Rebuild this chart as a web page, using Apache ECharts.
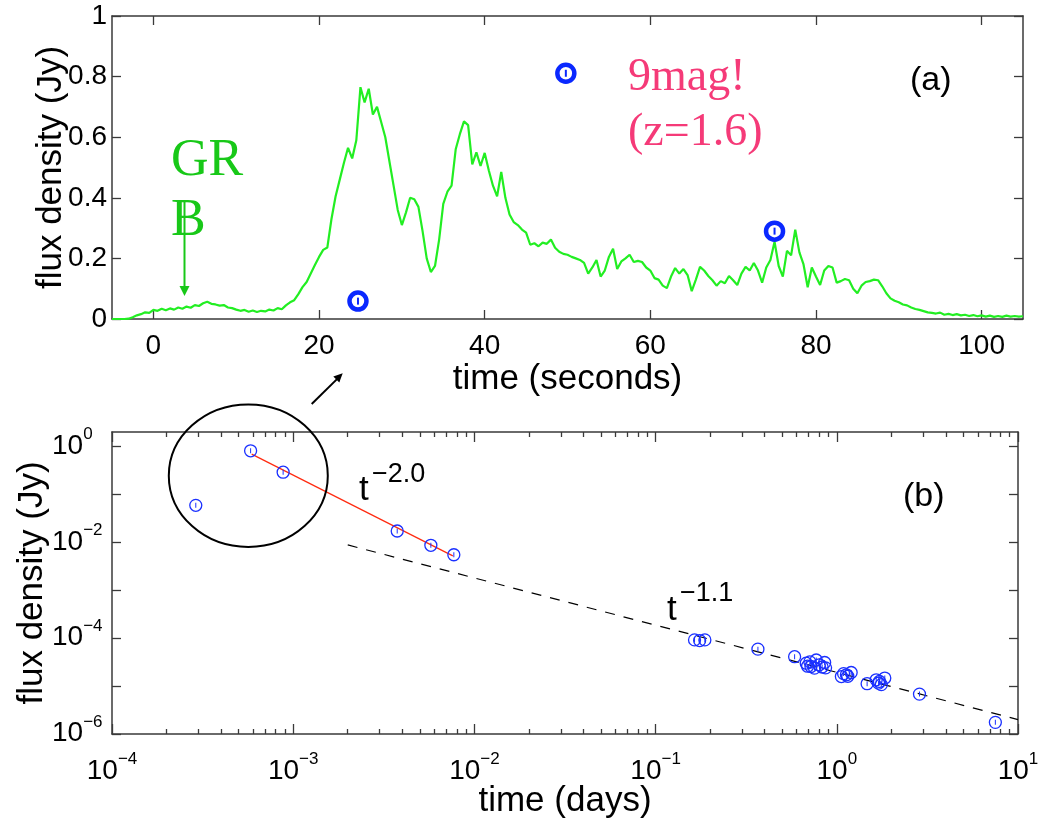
<!DOCTYPE html>
<html><head><meta charset="utf-8">
<script src="https://cdn.jsdelivr.net/npm/echarts@6/dist/echarts.min.js"></script>
<style>html,body{margin:0;padding:0;background:#fff}#c{width:1048px;height:823px}</style>
</head><body><div id="c"></div>
<script>
// ---------- panel (a): prompt gamma-ray light curve ----------
const lcStart = -5, lcStep = 0.5;   // seconds
const lcFlux = [
 0.000,0.000,0.000,0.000,0.001,0.006,0.012,0.016,0.022,0.020,
 0.030,0.027,0.034,0.029,0.035,0.031,0.038,0.034,0.041,0.037,
 0.046,0.043,0.052,0.057,0.050,0.048,0.044,0.046,0.038,0.036,
 0.031,0.027,0.030,0.024,0.028,0.023,0.027,0.025,0.031,0.028,
 0.036,0.032,0.045,0.055,0.062,0.082,0.105,0.122,0.150,0.178,
 0.205,0.228,0.236,0.330,0.405,0.460,0.515,0.565,0.530,0.590,
 0.765,0.715,0.760,0.675,0.700,0.650,0.600,0.520,0.440,0.360,
 0.310,0.352,0.400,0.395,0.370,0.290,0.200,0.155,0.175,0.262,
 0.380,0.420,0.440,0.560,0.610,0.652,0.640,0.510,0.550,0.505,
 0.548,0.490,0.440,0.405,0.485,0.400,0.345,0.320,0.310,0.295,
 0.285,0.245,0.250,0.240,0.252,0.248,0.262,0.235,0.222,0.215,
 0.212,0.205,0.200,0.195,0.185,0.150,0.170,0.195,0.140,0.160,
 0.205,0.232,0.165,0.190,0.200,0.212,0.188,0.192,0.188,0.170,
 0.160,0.135,0.130,0.110,0.102,0.140,0.168,0.150,0.165,0.145,
 0.092,0.130,0.172,0.160,0.142,0.128,0.110,0.125,0.118,0.142,
 0.128,0.112,0.150,0.172,0.160,0.185,0.160,0.120,0.170,0.195,
 0.255,0.175,0.140,0.225,0.210,0.295,0.220,0.180,0.105,0.170,
 0.140,0.112,0.160,0.175,0.170,0.120,0.125,0.132,0.128,0.100,
 0.085,0.110,0.122,0.125,0.130,0.128,0.108,0.085,0.068,0.060,
 0.055,0.048,0.045,0.038,0.033,0.030,0.026,0.022,0.020,0.018,
 0.021,0.014,0.017,0.013,0.016,0.012,0.014,0.010,0.013,0.009,
 0.012,0.008,0.011,0.007,0.010,0.007,0.011,0.008,0.010,0.008,
 0.009
];
const opticalT = [24.7, 49.8, 75.0];
const opticalF = [0.059, 0.811, 0.290];
const topXTicks = [0, 20, 40, 60, 80, 100];

// ---------- panel (b): optical afterglow (days, Jy) ----------
const earlyDays = [2.9e-4, 5.82e-4, 8.8e-4, 3.75e-3, 5.75e-3, 7.7e-3];
const earlyFlux = [0.059, 0.81, 0.29, 0.0172, 0.00866, 0.0055];
const lateDays = [0.164,0.175,0.187,0.367,0.585,0.678,0.69,0.71,0.72,0.753,0.77,0.80,0.83,0.857,0.867,
                  1.06,1.09,1.13,1.15,1.2,1.47,1.65,1.70,1.72,1.76,1.84,2.86,7.5];
const lateFlux = [9.2e-5,8.9e-5,9.2e-5,5.9e-5,4.1e-5,3.0e-5,2.6e-5,3.2e-5,2.56e-5,2.37e-5,3.5e-5,2.78e-5,2.5e-5,3.1e-5,2.4e-5,
                  1.58e-5,1.82e-5,1.72e-5,1.6e-5,1.92e-5,1.12e-5,1.35e-5,1.15e-5,1.25e-5,1.07e-5,1.47e-5,6.8e-6,1.75e-6];
const steepFitT = [5.9e-4, 7.6e-3], steepFitF = [0.69, 0.0052];   // t^-2.0
const shallowFitT = [2.0e-3, 10], shallowFitF = [8.8e-3, 2.0e-6]; // t^-1.1
const botXExps = [-4, -3, -2, -1, 0, 1];
const botYExps = [-6, -5, -4, -3, -2, -1, 0];
const botYLabelExps = [-6, -4, -2, 0];

// ---------- build ----------
const FONT = 'Liberation Sans';
const AX = '#3a3a3a';
const BLUE = '#0a28ff';
const pow10 = e => Math.pow(10, e);
const lcData = lcFlux.map((v, i) => [lcStart + i * lcStep, v]);
const opticalData = opticalT.map((t, i) => [t, opticalF[i]]);
const afterglowData = earlyDays.map((t, i) => [t, earlyFlux[i]]).concat(lateDays.map((t, i) => [t, lateFlux[i]]));
const botXMajor = botXExps.map(pow10);
const botXMinor = [];
for (let k = 0; k < botXExps.length - 1; k++) for (let m = 2; m <= 9; m++) botXMinor.push(m * pow10(botXExps[k]));
const supRich = {
  b: {fontSize: 28, fontFamily: FONT, color: '#000', lineHeight: 34, verticalAlign: 'bottom'},
  s: {fontSize: 17, fontFamily: FONT, color: '#000', lineHeight: 17, verticalAlign: 'top'}
};
const supFmt = v => { const e = Math.round(Math.log10(v)); return '{b|10}{s|' + (e < 0 ? '\u2212' + (-e) : e) + '}'; };

function axis(o) {
  return Object.assign({
    splitLine: {show: false},
    axisLine: {show: true, onZero: false, lineStyle: {color: AX, width: 1.5}},
    axisLabel: {show: false},
    nameMoveOverlap: false,
    nameTextStyle: {fontSize: 35, fontFamily: FONT, color: '#000'}
  }, o);
}
const tick = (vals, len) => ({show: true, inside: true, length: len, customValues: vals, lineStyle: {color: AX, width: 1.3}});

const option = {
  backgroundColor: '#fff',
  animation: false,
  grid: [
    {left: 112, top: 16, width: 911, height: 303},
    {left: 112, top: 432, width: 906, height: 302}
  ],
  xAxis: [
    axis({gridIndex: 0, type: 'value', min: -5, max: 105, position: 'bottom',
      axisTick: tick(topXTicks, 9),
      axisLabel: {show: true, customValues: topXTicks, fontSize: 28, fontFamily: FONT, color: '#000', margin: 13},
      name: 'time (seconds)', nameLocation: 'middle', nameGap: 43}),
    axis({gridIndex: 0, type: 'value', min: -5, max: 105, position: 'top', axisTick: tick(topXTicks, 9)}),
    axis({gridIndex: 1, type: 'log', logBase: 10, min: 1e-4, max: 10, position: 'bottom',
      axisTick: tick(botXMajor, 10),
      axisLabel: {show: true, customValues: botXMajor, formatter: supFmt, rich: supRich, margin: 17,
        alignMinLabel: 'center', alignMaxLabel: 'center'},
      name: 'time (days)', nameLocation: 'middle', nameGap: 50}),
    axis({gridIndex: 1, type: 'log', logBase: 10, min: 1e-4, max: 10, position: 'bottom',
      axisLine: {show: false}, axisTick: tick(botXMinor, 5)}),
    axis({gridIndex: 1, type: 'log', logBase: 10, min: 1e-4, max: 10, position: 'top', axisTick: tick(botXMajor, 10)}),
    axis({gridIndex: 1, type: 'log', logBase: 10, min: 1e-4, max: 10, position: 'top',
      axisLine: {show: false}, axisTick: tick(botXMinor, 5)})
  ],
  yAxis: [
    axis({gridIndex: 0, type: 'value', min: 0, max: 1, interval: 0.2, position: 'left',
      axisTick: {show: true, inside: true, length: 9, lineStyle: {color: AX, width: 1.3}},
      axisLabel: {show: true, fontSize: 28, fontFamily: FONT, color: '#000', margin: 5},
      name: 'flux density (Jy)', nameLocation: 'middle', nameGap: 43}),
    axis({gridIndex: 0, type: 'value', min: 0, max: 1, interval: 0.2, position: 'right',
      axisTick: {show: true, inside: true, length: 9, lineStyle: {color: AX, width: 1.3}}}),
    axis({gridIndex: 1, type: 'log', logBase: 10, min: 1e-6, max: 2, position: 'left',
      axisTick: tick(botYExps.map(pow10), 9),
      axisLabel: {show: true, customValues: botYLabelExps.map(pow10), formatter: supFmt, rich: supRich,
        align: 'left', margin: 60, padding: [0, 0, 7, 0]},
      name: 'flux density (Jy)', nameLocation: 'middle', nameGap: 62}),
    axis({gridIndex: 1, type: 'log', logBase: 10, min: 1e-6, max: 2, position: 'right',
      axisTick: tick(botYExps.map(pow10), 9)})
  ],
  series: [
    {type: 'line', xAxisIndex: 0, yAxisIndex: 0, data: lcData, showSymbol: false, silent: true,
      lineStyle: {color: '#22ee22', width: 2.2}, z: 2},
    {type: 'scatter', xAxisIndex: 0, yAxisIndex: 0, data: opticalData,
      symbol: 'circle', symbolSize: 17, itemStyle: {color: 'transparent', borderColor: BLUE, borderWidth: 4.5, opacity: 1}, z: 3},
    {type: 'scatter', xAxisIndex: 0, yAxisIndex: 0, data: opticalData, silent: true,
      symbol: 'rect', symbolSize: [2, 7], itemStyle: {color: BLUE, opacity: 1}, z: 3},
    {type: 'line', xAxisIndex: 2, yAxisIndex: 2, data: steepFitT.map((t, i) => [t, steepFitF[i]]), showSymbol: false,
      lineStyle: {color: '#ff2a10', width: 1.2}, z: 2},
    {type: 'line', xAxisIndex: 2, yAxisIndex: 2, data: shallowFitT.map((t, i) => [t, shallowFitF[i]]), showSymbol: false,
      lineStyle: {color: '#000', width: 1.2, type: [10, 9]}, z: 2},
    {type: 'scatter', xAxisIndex: 2, yAxisIndex: 2, data: afterglowData,
      symbol: 'circle', symbolSize: 12, itemStyle: {color: 'transparent', borderColor: '#1a30ff', borderWidth: 1.3, opacity: 1}, z: 3},
    {type: 'scatter', xAxisIndex: 2, yAxisIndex: 2, data: afterglowData, silent: true,
      symbol: 'rect', symbolSize: [1, 5], itemStyle: {color: '#1a30ff', opacity: 1}, z: 3}
  ],
  graphic: [
    {type: 'text', x: 171, y: 161, z: 10, style: {text: 'GR', font: '52px "Liberation Serif"', fill: '#18c818', align: 'left', verticalAlign: 'middle'}},
    {type: 'text', x: 171, y: 221, z: 10, style: {text: 'B', font: '52px "Liberation Serif"', fill: '#18c818', align: 'left', verticalAlign: 'middle'}},
    {type: 'line', z: 11, shape: {x1: 184.5, y1: 201, x2: 184.5, y2: 287}, style: {stroke: '#18c818', lineWidth: 2}},
    {type: 'polygon', z: 11, shape: {points: [[179.5, 286], [189.5, 286], [184.5, 296]]}, style: {fill: '#18c818'}},
    {type: 'text', x: 628, y: 78, z: 10, style: {text: '9mag!', font: '46px "Liberation Serif"', fill: '#f53a78', align: 'left', verticalAlign: 'middle'}},
    {type: 'text', x: 628, y: 133, z: 10, style: {text: '(z=1.6)', font: '46px "Liberation Serif"', fill: '#f53a78', align: 'left', verticalAlign: 'middle'}},
    {type: 'text', x: 910, y: 81, z: 10, style: {text: '(a)', font: '34px "Liberation Sans"', fill: '#000', align: 'left', verticalAlign: 'middle'}},
    {type: 'text', x: 903, y: 497, z: 10, style: {text: '(b)', font: '34px "Liberation Sans"', fill: '#000', align: 'left', verticalAlign: 'middle'}},
    {type: 'text', x: 359, y: 490, z: 10, style: {text: 't', font: '35px "Liberation Sans"', fill: '#000', align: 'left', verticalAlign: 'middle'}},
    {type: 'text', x: 372, y: 475, z: 10, style: {text: '\u22122.0', font: '27px "Liberation Sans"', fill: '#000', align: 'left', verticalAlign: 'middle'}},
    {type: 'text', x: 667, y: 610, z: 10, style: {text: 't', font: '35px "Liberation Sans"', fill: '#000', align: 'left', verticalAlign: 'middle'}},
    {type: 'text', x: 680, y: 594, z: 10, style: {text: '\u22121.1', font: '27px "Liberation Sans"', fill: '#000', align: 'left', verticalAlign: 'middle'}},
    {type: 'ellipse', z: 10, shape: {cx: 248.3, cy: 475.7, rx: 79.5, ry: 71.2}, style: {fill: 'transparent', stroke: '#000', lineWidth: 2}},
    {type: 'line', z: 10, shape: {x1: 311.7, y1: 404, x2: 337.5, y2: 378.6}, style: {stroke: '#000', lineWidth: 2}},
    {type: 'polygon', z: 10, shape: {points: [[342.7, 373.3], [339.3, 382.6], [333.3, 376.6]]}, style: {fill: '#000'}}
  ]
};
const chart = echarts.init(document.getElementById('c'), null, {renderer: 'canvas'});
chart.setOption(option);
</script>
</body></html>
